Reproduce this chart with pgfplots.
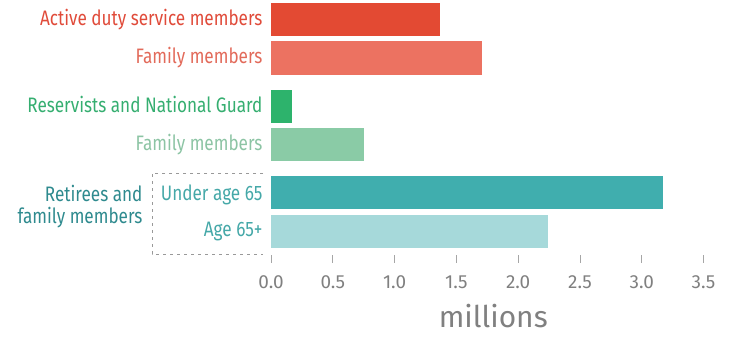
\documentclass[border=0pt]{standalone}
\usepackage{pgfplots}
\pgfplotsset{compat=1.18}
\usepackage{fontspec}
\setmainfont{Fira Sans}[FakeStretch=0.82]
\newfontfamily\tickfont{Fira Sans}
\definecolor{redA}{HTML}{E34A33}
\definecolor{redB}{HTML}{EC7261}
\definecolor{grnA}{HTML}{2DB36C}
\definecolor{grnB}{HTML}{8ACBA6}
\definecolor{tealA}{HTML}{40AEAE}
\definecolor{tealB}{HTML}{A6D9DA}
\definecolor{tRedA}{HTML}{E04B3A}
\definecolor{tRedB}{HTML}{E26A5A}
\definecolor{tGrnA}{HTML}{35AE70}
\definecolor{tGrnB}{HTML}{8CC4A4}
\definecolor{tTealA}{HTML}{2E8A8E}
\definecolor{tTealB}{HTML}{45A8A8}
\definecolor{tickgray}{HTML}{808080}
\begin{document}
\begin{tikzpicture}[x=1bp,y=1bp]
\useasboundingbox (0,0) rectangle (731,-337);
\begin{axis}[
  at={(271bp,-0.25bp)}, anchor=north west,
  scale only axis,
  width=432.5bp, height=262.76bp,
  xmin=0, xmax=3.5,
  ymin=-0.5, ymax=6.325,
  y dir=reverse,
  axis x line*=bottom,
  axis y line=none,
  x axis line style={draw=white},
  xtick={0,0.5,...,3.5},
  xtick align=inside,
  major tick length=8bp,
  xtick style={draw=black!35, line width=0.8pt},
  xticklabel style={font=\tickfont\fontsize{19}{20}\selectfont, text=tickgray, /pgf/number format/fixed, /pgf/number format/fixed zerofill, /pgf/number format/precision=1, yshift=-9bp},
  /pgf/number format/assume math mode=true,
  xlabel={millions},
  xlabel style={font=\tickfont\fontsize{30}{31}\selectfont, text=black!50, xshift=6bp, yshift=-9bp},
  clip=false,
]
\addplot[xbar, bar width=0.86, draw=none, fill=redA] coordinates {(1.37,0)};
\addplot[xbar, bar width=0.86, draw=none, fill=redB] coordinates {(1.71,1)};
\addplot[xbar, bar width=0.86, draw=none, fill=grnA] coordinates {(0.17,2.25)};
\addplot[xbar, bar width=0.86, draw=none, fill=grnB] coordinates {(0.75,3.25)};
\addplot[xbar, bar width=0.86, draw=none, fill=tealA] coordinates {(3.17,4.5)};
\addplot[xbar, bar width=0.86, draw=none, fill=tealB] coordinates {(2.24,5.5)};
\end{axis}
\begin{scope}[font=\fontsize{21}{22}\selectfont]
\node[anchor=east, text=tRedA] at (266,-19.5) {Active duty service members};
\node[anchor=east, text=tRedB] at (266,-58) {Family members};
\node[anchor=east, text=tGrnA] at (266,-104.5) {Reservists and National Guard};
\node[anchor=east, text=tGrnB] at (266,-145) {Family members};
\node[anchor=east, text=tTealB] at (266,-195) {Under age 65};
\node[anchor=east, text=tTealB] at (266,-232) {Age 65+};
\node[anchor=east, text=tTealA, align=right] at (146,-207) {Retirees and\\family members};
\end{scope}
\draw[black!40, line width=0.7pt, dash pattern=on 3bp off 4bp] (263,-173) -- (152,-173) -- (152,-254) -- (263,-254);
\end{tikzpicture}
\end{document}
